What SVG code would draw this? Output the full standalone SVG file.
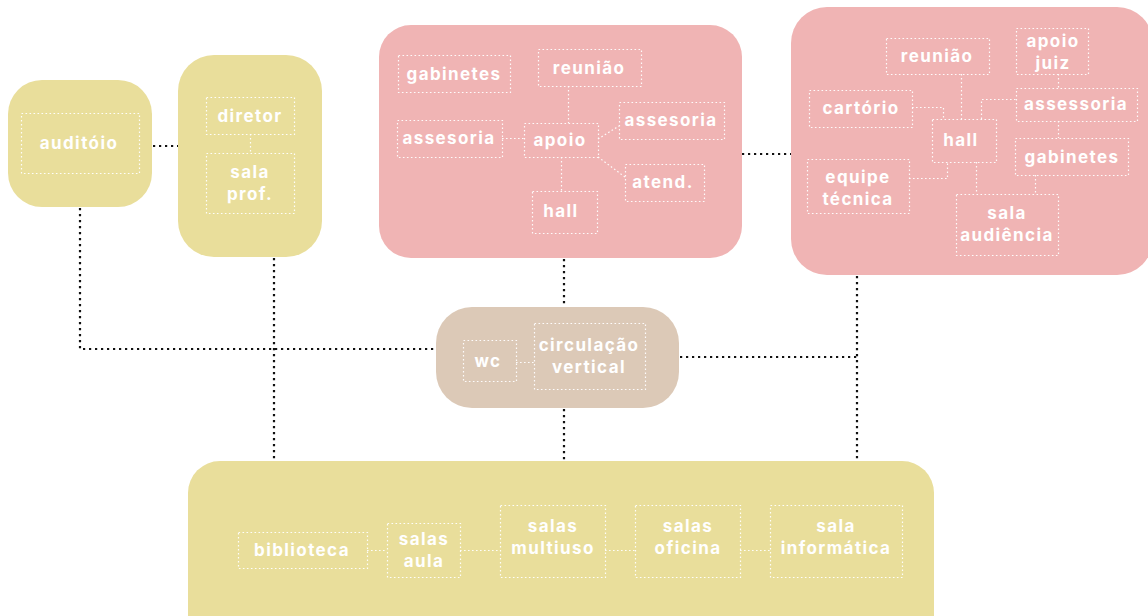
<svg xmlns="http://www.w3.org/2000/svg" width="1148" height="616" viewBox="0 0 1148 616">
  <style>
    .yellow { fill: #E9DE9B; }
    .pink { fill: #F0B4B4; }
    .beige { fill: #DCC9B7; }
    .room { fill: none; stroke: #FFFFFF; stroke-width: 1.2; stroke-dasharray: 1.6 2.4; opacity: 0.95; }
    .link { fill: none; stroke: #FFFFFF; stroke-width: 1.2; stroke-dasharray: 1.6 2.4; opacity: 0.95; }
    .conn { fill: none; stroke: #111111; stroke-width: 2.2; stroke-dasharray: 2.2 3.8; }
    text { font-family: Inter, "Open Sans", "Liberation Sans", sans-serif; font-weight: 700; font-size: 17px; letter-spacing: 1.4px; fill: #FFFFFF; text-anchor: middle; }
  </style>

  <!-- connectors between zones -->
  <g id="connectors">
    <line class="conn" x1="153" y1="146" x2="178" y2="146"/>
    <polyline class="conn" points="80,208 80,349 436,349"/>
    <line class="conn" x1="274" y1="258" x2="274" y2="461"/>
    <line class="conn" x1="564" y1="259" x2="564" y2="307"/>
    <line class="conn" x1="742" y1="154" x2="791" y2="154"/>
    <line class="conn" x1="857" y1="276" x2="857" y2="461"/>
    <line class="conn" x1="680" y1="357" x2="857" y2="357"/>
    <line class="conn" x1="564" y1="409" x2="564" y2="461"/>
  </g>

  <!-- auditorium -->
  <g id="auditorio">
    <rect class="yellow" x="8" y="80" width="144" height="127" rx="34"/>
    <rect class="room" x="21.5" y="113.5" width="118" height="60"/>
    <text x="79" y="149">auditóio</text>
  </g>

  <!-- direction -->
  <g id="direcao">
    <rect class="yellow" x="178" y="55" width="144" height="202" rx="36"/>
    <rect class="room" x="206.5" y="97.5" width="88" height="37"/>
    <rect class="room" x="206.5" y="153.5" width="88" height="60"/>
    <line class="link" x1="250.5" y1="134" x2="250.5" y2="153"/>
    <text x="250" y="122">diretor</text>
    <text x="250" y="178">sala</text>
    <text x="250" y="200">prof.</text>
  </g>

  <!-- administration -->
  <g id="administracao">
    <rect class="pink" x="379" y="25" width="363" height="233" rx="32"/>
    <rect class="room" x="398.5" y="55.5" width="112" height="37"/>
    <rect class="room" x="538.5" y="49.5" width="103" height="37"/>
    <rect class="room" x="397.5" y="120.5" width="105" height="37"/>
    <rect class="room" x="524.5" y="123.5" width="74" height="34"/>
    <rect class="room" x="619.5" y="102.5" width="105" height="37"/>
    <rect class="room" x="625.5" y="164.5" width="79" height="37"/>
    <rect class="room" x="532.5" y="191.5" width="65" height="42"/>
    <line class="link" x1="568.5" y1="86" x2="568.5" y2="123"/>
    <line class="link" x1="502" y1="138.5" x2="524" y2="138.5"/>
    <line class="link" x1="598" y1="139" x2="619" y2="126"/>
    <line class="link" x1="598" y1="157" x2="625" y2="177"/>
    <line class="link" x1="561.5" y1="157" x2="561.5" y2="191"/>
    <text x="454" y="80">gabinetes</text>
    <text x="589" y="74">reunião</text>
    <text x="449" y="144">assesoria</text>
    <text x="560" y="146">apoio</text>
    <text x="671" y="126">assesoria</text>
    <text x="663" y="188">atend.</text>
    <text x="561" y="217">hall</text>
  </g>

  <!-- court -->
  <g id="forum">
    <rect class="pink" x="791" y="7" width="362" height="268" rx="36"/>
    <rect class="room" x="886.5" y="38.5" width="103" height="36"/>
    <rect class="room" x="1016.5" y="28.5" width="72" height="46"/>
    <rect class="room" x="809.5" y="90.5" width="103" height="37"/>
    <rect class="room" x="1016.5" y="88.5" width="121" height="33"/>
    <rect class="room" x="932.5" y="119.5" width="64" height="43"/>
    <rect class="room" x="1015.5" y="138.5" width="113" height="37"/>
    <rect class="room" x="807.5" y="159.5" width="102" height="54"/>
    <rect class="room" x="956.5" y="194.5" width="102" height="61"/>
    <line class="link" x1="961.5" y1="74" x2="961.5" y2="119"/>
    <polyline class="link" points="912,107.5 943.5,107.5 943.5,119"/>
    <polyline class="link" points="981.5,119 981.5,99.5 1016,99.5"/>
    <line class="link" x1="1058.5" y1="74" x2="1058.5" y2="88"/>
    <line class="link" x1="1058.5" y1="121" x2="1058.5" y2="138"/>
    <polyline class="link" points="909,178.5 947.5,178.5 947.5,162"/>
    <line class="link" x1="976.5" y1="162" x2="976.5" y2="194"/>
    <line class="link" x1="1035.5" y1="175" x2="1035.5" y2="194"/>
    <text x="937" y="62">reunião</text>
    <text x="1053" y="47">apoio</text>
    <text x="1053" y="69">juiz</text>
    <text x="861" y="114">cartório</text>
    <text x="1076" y="110">assessoria</text>
    <text x="961" y="146">hall</text>
    <text x="1072" y="163">gabinetes</text>
    <text x="858" y="183">equipe</text>
    <text x="858" y="205">técnica</text>
    <text x="1007" y="219">sala</text>
    <text x="1007" y="241">audiência</text>
  </g>

  <!-- circulation core -->
  <g id="circulacao">
    <rect class="beige" x="436" y="307" width="243" height="101" rx="36"/>
    <rect class="room" x="463.5" y="340.5" width="53" height="41"/>
    <rect class="room" x="534.5" y="323.5" width="111" height="66"/>
    <line class="link" x1="516" y1="362.5" x2="534" y2="362.5"/>
    <text x="488" y="367">wc</text>
    <text x="589" y="351">circulação</text>
    <text x="589" y="373">vertical</text>
  </g>

  <!-- teaching block -->
  <g id="ensino">
    <rect class="yellow" x="188" y="461" width="746" height="190" rx="32"/>
    <rect class="room" x="238.5" y="532.5" width="129" height="36"/>
    <rect class="room" x="387.5" y="523.5" width="73" height="54"/>
    <rect class="room" x="500.5" y="505.5" width="105" height="72"/>
    <rect class="room" x="635.5" y="505.5" width="105" height="72"/>
    <rect class="room" x="770.5" y="505.5" width="132" height="72"/>
    <line class="link" x1="367" y1="550.5" x2="387" y2="550.5"/>
    <line class="link" x1="460" y1="550.5" x2="500" y2="550.5"/>
    <line class="link" x1="605" y1="550.5" x2="635" y2="550.5"/>
    <line class="link" x1="740" y1="550.5" x2="770" y2="550.5"/>
    <text x="302" y="556">biblioteca</text>
    <text x="424" y="545">salas</text>
    <text x="424" y="567">aula</text>
    <text x="553" y="532">salas</text>
    <text x="553" y="554">multiuso</text>
    <text x="688" y="532">salas</text>
    <text x="688" y="554">oficina</text>
    <text x="836" y="532">sala</text>
    <text x="836" y="554">informática</text>
  </g>
</svg>
